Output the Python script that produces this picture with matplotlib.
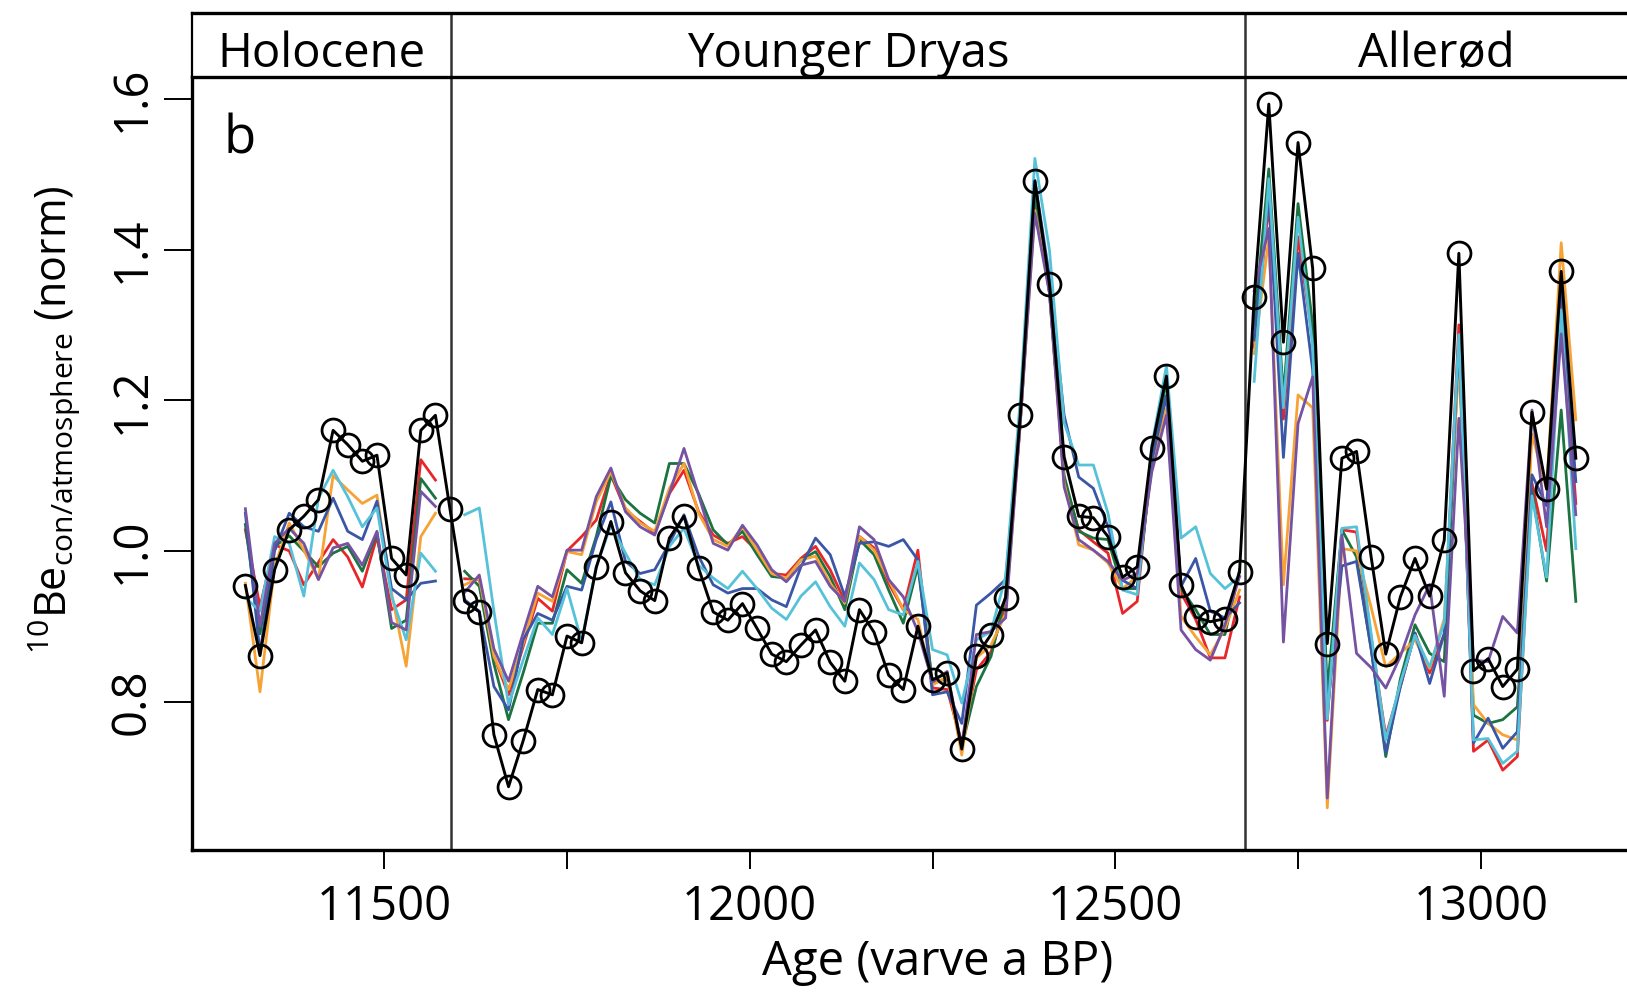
"""
Normalised 10Be (con/atmosphere) across the Allerød - Younger Dryas - Holocene
transition, with an ensemble of model runs drawn as thin coloured lines.
"""

import numpy as np
import matplotlib
matplotlib.use("Agg")
import matplotlib.pyplot as plt

plt.rcParams["font.family"] = ["Open Sans", "DejaVu Sans"]
plt.rcParams["mathtext.fontset"] = "custom"
plt.rcParams["mathtext.rm"] = "Open Sans"
plt.rcParams["mathtext.default"] = "regular"

nan = np.nan

# ── Data ──────────────────────────────────────────────────────────────────────

age = [
    11310, 11330, 11350, 11370, 11390, 11410, 11430, 11450, 11470, 11490,
    11510, 11530, 11550, 11570, 11590, 11610, 11630, 11650, 11670, 11690,
    11710, 11730, 11750, 11770, 11790, 11810, 11830, 11850, 11870, 11890,
    11910, 11930, 11950, 11970, 11990, 12010, 12030, 12050, 12070, 12090,
    12110, 12130, 12150, 12170, 12190, 12210, 12230, 12250, 12270, 12290,
    12310, 12330, 12350, 12370, 12390, 12410, 12430, 12450, 12470, 12490,
    12510, 12530, 12550, 12570, 12590, 12610, 12630, 12650, 12670, 12690,
    12710, 12730, 12750, 12770, 12790, 12810, 12830, 12850, 12870, 12890,
    12910, 12930, 12950, 12970, 12990, 13010, 13030, 13050, 13070, 13090,
    13110, 13130,
]

# measured record (black, open circles)
be_measured = [
    0.954, 0.861, 0.975, 1.028, 1.046, 1.068, 1.160, 1.141, 1.119, 1.127,
    0.990, 0.968, 1.160, 1.180, 1.055, 0.933, 0.919, 0.756, 0.687, 0.748,
    0.816, 0.809, 0.887, 0.878, 0.978, 1.039, 0.971, 0.947, 0.934, 1.017,
    1.046, 0.977, 0.919, 0.908, 0.930, 0.897, 0.863, 0.853, 0.875, 0.895,
    0.852, 0.827, 0.922, 0.892, 0.835, 0.816, 0.900, 0.829, 0.838, 0.737,
    0.860, 0.889, 0.938, 1.180, 1.491, 1.354, 1.125, 1.046, 1.044, 1.019,
    0.965, 0.979, 1.137, 1.232, 0.955, 0.912, 0.906, 0.910, 0.972, 1.337,
    1.593, 1.277, 1.542, 1.375, 0.877, 1.123, 1.132, 0.992, 0.863, 0.939,
    0.990, 0.940, 1.014, 1.395, 0.841, 0.857, 0.820, 0.843, 1.184, 1.082,
    1.371, 1.123,
]

# ensemble members (Holocene 11310-11570 | gap | YD 11610-12670 | Allerød 12690-13130)
be_red = [
    1.028, 0.926, 1.008, 1.000, 0.955, 0.985, 1.015, 0.992, 0.952, 1.019, 0.922, 0.935, 1.121, 1.094,
    nan,
    0.963, 0.962, 0.860, 0.809, 0.873, 0.937, 0.920, 1.000, 1.019, 1.041,
    1.101, 1.054, 1.039, 1.024, 1.076, 1.107, 1.052, 1.021, 1.010, 1.019,
    1.000, 0.970, 0.968, 0.990, 1.006, 0.975, 0.933, 1.019, 1.004, 0.957,
    0.922, 1.001, 0.818, 0.816, 0.745, 0.842, 0.866, 0.928, 1.170, 1.466,
    1.345, 1.095, 1.028, 1.012, 0.997, 0.917, 0.933, 1.130, 1.206, 0.944,
    0.909, 0.858, 0.858, 0.939,
    1.270, 1.460, 1.175, 1.417, 1.280, 0.775, 1.028, 1.025, 0.885, 0.754,
    0.820, 0.891, 0.838, 0.890, 1.300, 0.734, 0.749, 0.709, 0.727, 1.090,
    1.000, 1.330, 1.063,
]

be_green = [
    1.035, 0.890, 1.006, 1.020, 1.000, 0.979, 0.997, 1.006, 0.973, 1.024, 0.897, 0.908, 1.096, 1.070,
    nan,
    0.973, 0.953, 0.850, 0.776, 0.838, 0.904, 0.904, 0.975, 0.957, 1.019,
    1.099, 1.068, 1.050, 1.037, 1.116, 1.116, 1.076, 1.028, 1.008, 1.026,
    0.995, 0.966, 0.964, 0.988, 0.999, 0.966, 0.922, 1.015, 0.995, 0.948,
    0.904, 0.980, 0.824, 0.831, 0.740, 0.820, 0.860, 0.940, 1.170, 1.470,
    1.342, 1.100, 1.026, 1.017, 1.015, 0.950, 0.950, 1.115, 1.227, 0.950,
    0.922, 0.889, 0.889, 0.975,
    1.300, 1.507, 1.205, 1.461, 1.300, 0.813, 1.028, 0.992, 0.870, 0.727,
    0.830, 0.902, 0.864, 0.853, 1.271, 0.782, 0.771, 0.776, 0.793, 1.080,
    0.960, 1.187, 0.933,
]

be_orange = [
    0.957, 0.813, 0.979, 1.037, 1.001, 0.962, 1.100, 1.081, 1.063, 1.074, 0.944, 0.847, 1.019, 1.050,
    nan,
    0.955, 0.964, 0.860, 0.816, 0.877, 0.944, 0.933, 0.999, 0.995, 1.065,
    1.105, 1.057, 1.037, 1.026, 1.083, 1.116, 1.050, 1.015, 1.006, 1.032,
    1.001, 0.970, 0.964, 0.988, 0.993, 0.957, 0.931, 1.019, 1.001, 0.962,
    0.922, 0.909, 0.822, 0.833, 0.729, 0.858, 0.875, 0.917, 1.170, 1.452,
    1.346, 1.090, 1.008, 1.001, 0.984, 0.950, 0.966, 1.110, 1.189, 0.913,
    0.886, 0.862, 0.897, 0.948,
    1.262, 1.415, 0.955, 1.207, 1.190, 0.659, 1.003, 1.000, 0.925, 0.846,
    0.864, 0.882, 0.844, 0.910, 1.253, 0.796, 0.771, 0.756, 0.749, 1.155,
    1.082, 1.409, 1.174,
]

be_blue = [
    1.050, 0.864, 1.000, 1.050, 1.032, 1.026, 1.070, 1.026, 1.015, 1.066, 0.950, 0.935, 0.957, 0.960,
    nan,
    0.935, 0.920, 0.820, 0.789, 0.882, 0.917, 0.908, 0.953, 0.948, 1.015,
    1.065, 0.986, 0.970, 0.975, 1.010, 1.048, 0.993, 0.955, 0.944, 0.950,
    0.950, 0.935, 0.926, 0.979, 1.017, 0.995, 0.940, 1.010, 1.012, 1.006,
    1.015, 0.988, 0.809, 0.813, 0.771, 0.928, 0.944, 0.962, 1.180, 1.492,
    1.364, 1.180, 1.098, 1.083, 1.032, 0.961, 0.950, 1.120, 1.206, 0.953,
    0.990, 0.920, 0.911, 0.931,
    1.280, 1.473, 1.124, 1.395, 1.240, 0.785, 0.980, 0.986, 0.870, 0.732,
    0.820, 0.891, 0.824, 0.890, 1.280, 0.745, 0.778, 0.738, 0.760, 1.101,
    1.060, 1.355, 1.092,
]

be_cyan = [
    0.938, 0.920, 1.019, 1.010, 0.940, 1.070, 1.107, 1.072, 1.032, 1.057, 0.940, 0.882, 0.997, 0.973,
    nan,
    1.048, 1.057, 0.920, 0.796, 0.855, 0.911, 0.889, 0.950, 0.880, 0.979,
    1.034, 0.997, 0.962, 0.955, 1.006, 1.030, 0.981, 0.964, 0.950, 0.973,
    0.950, 0.924, 0.909, 0.940, 0.959, 0.926, 0.900, 0.984, 0.962, 0.922,
    0.915, 0.986, 0.869, 0.862, 0.798, 0.882, 0.893, 0.966, 1.200, 1.521,
    1.399, 1.170, 1.114, 1.114, 1.050, 0.948, 0.942, 1.140, 1.246, 1.017,
    1.032, 0.970, 0.950, 0.966,
    1.225, 1.494, 1.190, 1.443, 1.270, 0.777, 1.030, 1.032, 0.890, 0.749,
    0.825, 0.888, 0.846, 0.905, 1.287, 0.749, 0.751, 0.718, 0.734, 1.073,
    0.965, 1.320, 1.003,
]

be_purple = [
    1.056, 0.900, 1.010, 1.030, 1.010, 0.962, 1.004, 1.010, 0.981, 1.026, 0.905, 0.895, 1.079, 1.059,
    nan,
    0.945, 0.968, 0.870, 0.827, 0.891, 0.953, 0.939, 1.001, 1.001, 1.072,
    1.110, 1.052, 1.032, 1.021, 1.076, 1.136, 1.074, 1.010, 1.001, 1.034,
    1.008, 0.975, 0.959, 0.981, 0.986, 0.953, 0.933, 1.032, 1.015, 0.962,
    0.939, 0.893, 0.826, 0.840, 0.740, 0.889, 0.893, 0.911, 1.170, 1.448,
    1.342, 1.085, 1.015, 1.001, 0.986, 0.961, 0.970, 1.105, 1.180, 0.895,
    0.869, 0.855, 0.902, 0.966,
    1.345, 1.428, 0.879, 1.169, 1.231, 0.672, 1.021, 0.864, 0.845, 0.818,
    0.860, 0.915, 0.955, 0.807, 1.176, 0.855, 0.853, 0.913, 0.891, 1.187,
    1.032, 1.288, 1.048,
]

period_names = ["Holocene", "Younger Dryas", "Allerød"]
period_bounds = [11237, 11591, 12678, 13200]

x_ticks = [11500, 11750, 12000, 12250, 12500, 12750, 13000]
x_ticklabels = ["11500", "", "12000", "", "12500", "", "13000"]
y_ticks = [0.8, 1.0, 1.2, 1.4, 1.6]

ensemble = [
    (be_red,    "#E8262A"),
    (be_green,  "#1B7340"),
    (be_orange, "#F7A234"),
    (be_blue,   "#3A56A6"),
    (be_cyan,   "#56C2D9"),
    (be_purple, "#7552A2"),
]

# ── Figure ────────────────────────────────────────────────────────────────────

W, H = 1627, 993
fig = plt.figure(figsize=(W / 100, H / 100), dpi=100)

left, top, bottom, head_top = 192, 77, 850, 13
ax = fig.add_axes([left / W, 1 - bottom / H, 1 - left / W, (bottom - top) / H])
hx = fig.add_axes([left / W, 1 - top / H, 1 - left / W, (top - head_top) / H])

x = np.array(age)

# ensemble, drawn period by period so lines break at the boundaries
for series, colour in ensemble:
    y = np.array(series)
    for lo, hi in zip(period_bounds[:-1], period_bounds[1:]):
        m = (x > lo) & (x < hi)
        ax.plot(x[m], y[m], color=colour, lw=2.0, zorder=2)

ax.plot(x, be_measured, color="black", lw=2.1, marker="o", ms=16.5,
        mfc="none", mec="black", mew=2.0, zorder=3)

for b in period_bounds[1:-1]:
    ax.axvline(b, color="#333333", lw=1.8, zorder=1)
    hx.axvline(b, color="#333333", lw=1.8)

ax.set_xlim(period_bounds[0], period_bounds[-1])
ax.set_ylim(0.603, 1.629)

ax.set_xticks(x_ticks)
ax.set_xticklabels(x_ticklabels)
ax.set_yticks(y_ticks)
ax.set_yticklabels([f"{v:.1f}" for v in y_ticks], rotation=90, va="center")
ax.tick_params(axis="x", length=14, width=1.4, labelsize=34, pad=10)
ax.tick_params(axis="y", length=20, width=1.4, labelsize=34, pad=6)

for side in ("top", "right"):
    ax.spines[side].set_visible(False)
for side in ("left", "bottom"):
    ax.spines[side].set_linewidth(2.4)

ax.text(11280, 1.527, "b", fontsize=38, ha="left", va="baseline")

# header strip with period names
hx.set_xlim(period_bounds[0], period_bounds[-1])
hx.set_ylim(0, 1)
hx.set_xticks([])
hx.set_yticks([])
hx.spines["right"].set_visible(False)
hx.spines["left"].set_linewidth(1.6)
hx.spines["top"].set_linewidth(2.4)
hx.spines["bottom"].set_linewidth(2.4)
for name, lo, hi in zip(period_names, period_bounds[:-1], period_bounds[1:]):
    hx.text((lo + hi) / 2, 0.16, name, fontsize=34, ha="center", va="baseline")

fig.text(938 / W, 1 - 975 / H, "Age (varve a BP)", fontsize=34,
         ha="center", va="baseline")
fig.text(66 / W, 1 - 420 / H,
         r"$^{10}$Be$_{con/atmosphere}$ (norm)", fontsize=31,
         rotation=90, rotation_mode="anchor", ha="center", va="baseline")

fig.savefig("out.png", dpi=100)
